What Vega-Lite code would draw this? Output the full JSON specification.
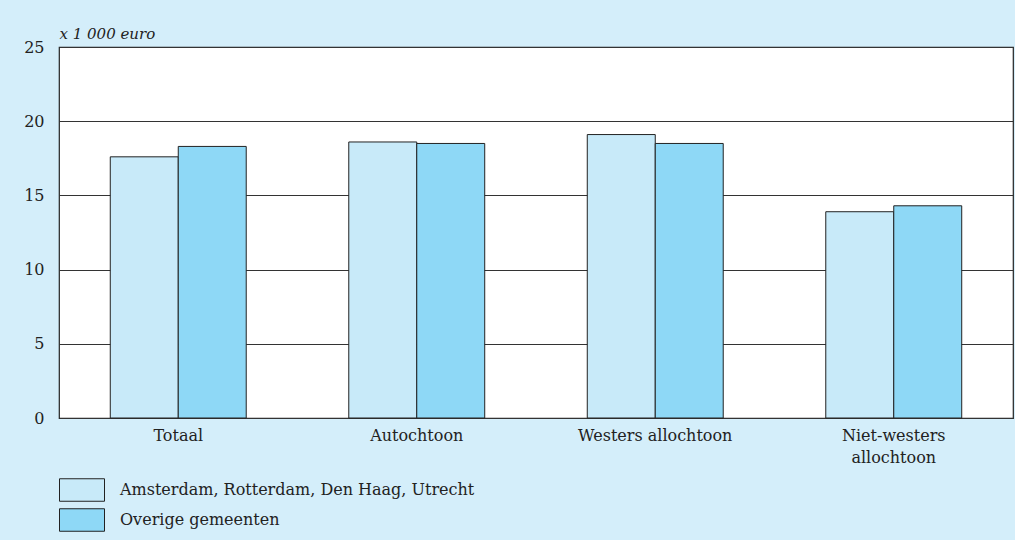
{
  "$schema": "https://vega.github.io/schema/vega-lite/v6.json",
  "width": 954,
  "height": 371,
  "autosize": {"type": "none"},
  "padding": {"left": 59, "top": 47, "right": 2, "bottom": 122},
  "background": "#D4EEFA",
  "data": {
    "values": [
      {"cat": "Totaal", "groep": "Amsterdam, Rotterdam, Den Haag, Utrecht", "waarde": 17.6},
      {"cat": "Totaal", "groep": "Overige gemeenten", "waarde": 18.3},
      {"cat": "Autochtoon", "groep": "Amsterdam, Rotterdam, Den Haag, Utrecht", "waarde": 18.6},
      {"cat": "Autochtoon", "groep": "Overige gemeenten", "waarde": 18.5},
      {"cat": "Westers allochtoon", "groep": "Amsterdam, Rotterdam, Den Haag, Utrecht", "waarde": 19.1},
      {"cat": "Westers allochtoon", "groep": "Overige gemeenten", "waarde": 18.5},
      {"cat": "Niet-westers allochtoon", "groep": "Amsterdam, Rotterdam, Den Haag, Utrecht", "waarde": 13.9},
      {"cat": "Niet-westers allochtoon", "groep": "Overige gemeenten", "waarde": 14.3}
    ]
  },
  "mark": {"type": "bar", "stroke": "#222222", "strokeWidth": 1},
  "encoding": {
    "x": {
      "field": "cat",
      "type": "nominal",
      "sort": null,
      "scale": {"paddingInner": 0.43, "paddingOuter": 0.215},
      "axis": {
        "title": null,
        "domain": false,
        "ticks": false,
        "tickSize": 0,
        "labelAngle": 0,
        "labelPadding": 9,
        "labelFont": "DejaVu Serif",
        "labelFontSize": 16,
        "labelColor": "#222222",
        "labelLineHeight": 22,
        "labelExpr": "datum.value == 'Niet-westers allochtoon' ? ['Niet-westers', 'allochtoon'] : datum.value"
      }
    },
    "xOffset": {
      "field": "groep",
      "type": "nominal",
      "scale": {"paddingInner": 0, "paddingOuter": 0}
    },
    "y": {
      "field": "waarde",
      "type": "quantitative",
      "scale": {"domain": [0, 25], "nice": false},
      "axis": {
        "values": [0, 5, 10, 15, 20, 25],
        "title": "x 1 000 euro",
        "titleAngle": 0,
        "titleAlign": "left",
        "titleBaseline": "alphabetic",
        "titleX": 0,
        "titleY": -9,
        "titleFont": "DejaVu Serif",
        "titleFontStyle": "italic",
        "titleFontWeight": "normal",
        "titleFontSize": 15,
        "titleColor": "#222222",
        "domain": false,
        "ticks": false,
        "tickSize": 0,
        "labelPadding": 15,
        "labelFont": "DejaVu Serif",
        "labelFontSize": 16,
        "labelColor": "#222222",
        "grid": true,
        "gridColor": "#333333",
        "gridWidth": 1
      }
    },
    "fill": {
      "field": "groep",
      "type": "nominal",
      "scale": {
        "domain": ["Amsterdam, Rotterdam, Den Haag, Utrecht", "Overige gemeenten"],
        "range": ["#C8EAF9", "#8ED8F6"]
      },
      "legend": {
        "title": null,
        "orient": "none",
        "legendX": 0,
        "legendY": 431,
        "direction": "vertical",
        "padding": 0,
        "symbolType": "M-1,-0.5H1V0.5H-1Z",
        "symbolSize": 2025,
        "symbolStrokeColor": "#222222",
        "symbolStrokeWidth": 1,
        "symbolOffset": 0,
        "labelOffset": 15,
        "clipHeight": 24,
        "rowPadding": 6,
        "labelFont": "DejaVu Serif",
        "labelFontSize": 16,
        "labelColor": "#222222",
        "labelLimit": 600
      }
    }
  },
  "config": {
    "view": {"fill": "white", "stroke": "#222222", "strokeWidth": 1.2}
  }
}
